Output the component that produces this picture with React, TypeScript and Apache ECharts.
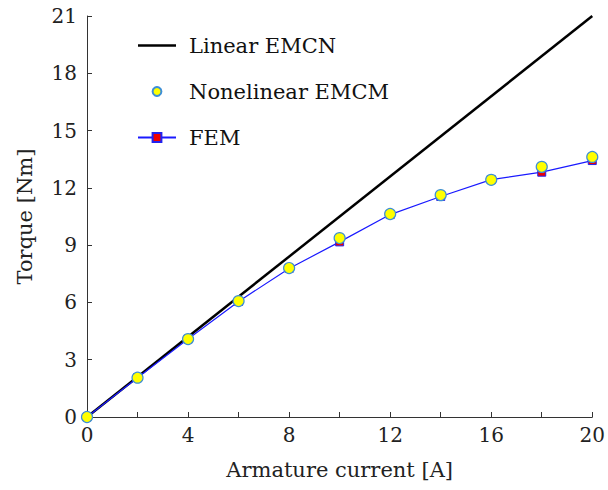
import React, { useEffect, useRef } from "react";
import * as echarts from "echarts";

const current = [0, 2, 4, 6, 8, 10, 12, 14, 16, 18, 20];
const linearX = [0, 20];
const linearY = [0, 21];
const nonlinear = [0, 2.06, 4.08, 6.07, 7.8, 9.37, 10.63, 11.62, 12.42, 13.1, 13.62];
const fem = [0, 2.06, 4.08, 6.05, 7.78, 9.17, 10.6, 11.55, 12.43, 12.82, 13.43];

const FONT = "DejaVu Serif";

export default function App() {
  const ref = useRef<HTMLDivElement>(null);
  useEffect(() => {
    const chart = echarts.init(ref.current!, null, { renderer: "svg" });
    chart.setOption({
      animation: false,
      textStyle: { fontFamily: FONT },
      grid: { left: 87, right: 12, top: 16, bottom: 73 },
      legend: {
        orient: "vertical",
        left: 132,
        top: 30,
        itemGap: 25,
        itemWidth: 38,
        itemHeight: 11,
        textStyle: { fontFamily: FONT, fontSize: 21, color: "#111", padding: [0, 0, 0, 8] },
        data: [
          { name: "Linear EMCN", icon: "path://M0,0L38,0L38,2.5L0,2.5Z" },
          "Nonelinear EMCM",
          "FEM",
        ],
      },
      xAxis: {
        type: "value",
        min: 0,
        max: 20,
        interval: 2,
        name: "Armature current [A]",
        nameLocation: "middle",
        nameGap: 42,
        nameTextStyle: { fontFamily: FONT, fontSize: 21, color: "#222" },
        axisLine: { lineStyle: { color: "#333", width: 1 } },
        axisTick: { inside: true, length: 5, lineStyle: { color: "#333" } },
        axisLabel: {
          fontFamily: FONT,
          fontSize: 20,
          color: "#222",
          margin: 8,
          formatter: (v: number) => (v % 4 === 0 ? String(v) : ""),
        },
        splitLine: { show: false },
      },
      yAxis: {
        type: "value",
        min: 0,
        max: 21,
        interval: 3,
        name: "Torque [Nm]",
        nameLocation: "middle",
        nameGap: 52,
        nameTextStyle: { fontFamily: FONT, fontSize: 21, color: "#222" },
        axisLine: { show: true, lineStyle: { color: "#333", width: 1 } },
        axisTick: { show: true, inside: true, length: 5, lineStyle: { color: "#333" } },
        axisLabel: { fontFamily: FONT, fontSize: 20, color: "#222", margin: 10 },
        splitLine: { show: false },
      },
      series: [
        {
          name: "Linear EMCN",
          type: "line",
          data: linearX.map((x, i) => [x, linearY[i]]),
          symbol: "none",
          lineStyle: { color: "#000", width: 2.5 },
          itemStyle: { color: "#000" },
          z: 2,
        },
        {
          name: "FEM",
          type: "line",
          data: current.map((x, i) => [x, fem[i]]),
          symbol: "rect",
          symbolSize: 8,
          lineStyle: { color: "#1a1aff", width: 1.2 },
          itemStyle: { color: "#ee0000", borderColor: "#2222ee", borderWidth: 1 },
          z: 3,
        },
        {
          name: "Nonelinear EMCM",
          type: "line",
          data: current.map((x, i) => [x, nonlinear[i]]),
          symbol: "circle",
          symbolSize: 11,
          showAllSymbol: true,
          lineStyle: { width: 0, opacity: 0 },
          itemStyle: { color: "#ffff00", borderColor: "#3d8fd6", borderWidth: 1.2 },
          z: 4,
        },
      ],
    });
    return () => chart.dispose();
  }, []);
  return <div ref={ref} style={{ width: 608, height: 490, position: "absolute", left: 0, top: 0 }} />;
}
